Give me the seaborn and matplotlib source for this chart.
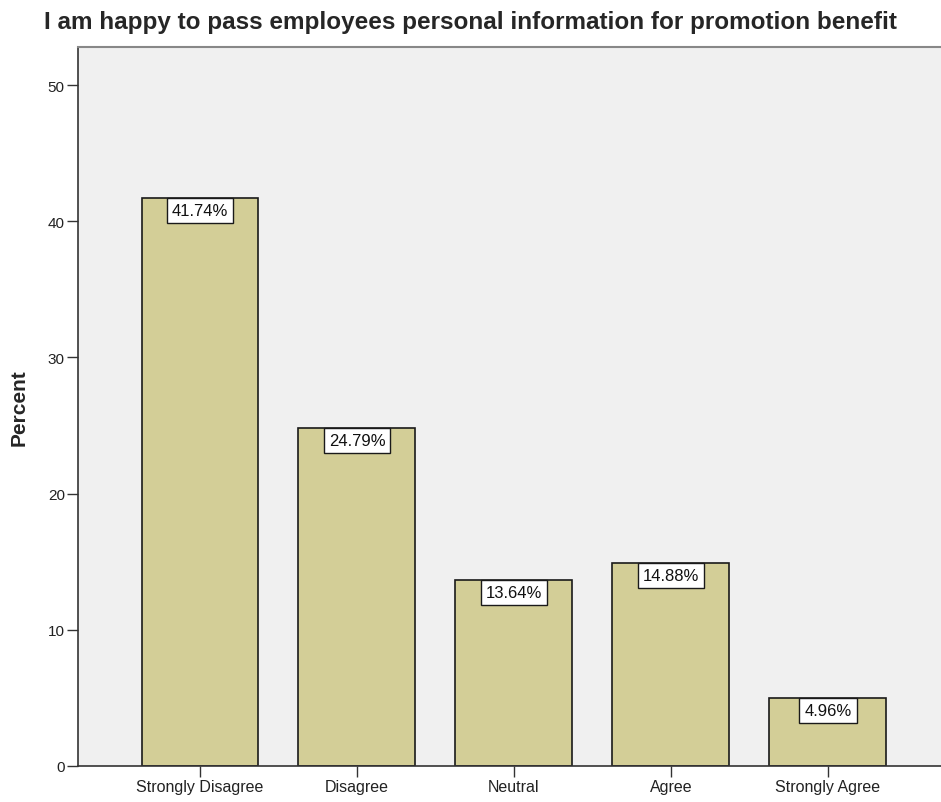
import matplotlib
matplotlib.use("Agg")
import matplotlib.pyplot as plt
import seaborn as sns
import pandas as pd

categories = ["Strongly Disagree", "Disagree", "Neutral", "Agree", "Strongly Agree"]
percents = [41.74, 24.79, 13.64, 14.88, 4.96]
y_ticks = [0, 10, 20, 30, 40, 50]

df = pd.DataFrame({"response": categories, "percent": percents})

sns.set_theme(style="white")
plt.rcParams["font.family"] = ["Liberation Sans", "DejaVu Sans"]

fig = plt.figure(figsize=(9.41, 8.03), dpi=100)
ax = fig.add_axes([78 / 941, 1 - 767 / 803, 863 / 941, (767 - 48) / 803])
ax.set_facecolor("#F0F0F0")

sns.barplot(data=df, x="response", y="percent", order=categories,
            color="#D3CE97", saturation=1, width=0.745,
            edgecolor="#1a1a1a", linewidth=1.2, ax=ax)

# value labels hanging from the top of each bar
for i, v in enumerate(percents):
    ax.annotate(f"{v:.2f}%", xy=(i, v), xytext=(0, -3.6), textcoords="offset points",
                ha="center", va="top", fontsize=12, color="#111111",
                bbox=dict(boxstyle="square,pad=0.3", facecolor="white",
                          edgecolor="#1a1a1a", linewidth=1.0))

ax.set_xlim(-0.777, 4.72)
ax.set_ylim(0, 52.8)
ax.set_yticks(y_ticks)
ax.set_yticklabels([str(t) for t in y_ticks])
ax.tick_params(axis="both", which="both", direction="out", length=8, width=1,
               color="#333333", labelcolor="#222222", pad=1.5,
               left=True, bottom=True)
ax.tick_params(axis="y", labelsize=11)
ax.tick_params(axis="x", labelsize=11.5)
ax.set_xlabel("")
ax.set_ylabel("Percent", fontsize=15, fontweight="bold")
ax.yaxis.set_label_coords(-0.057, 0.5)

for side in ["left", "bottom"]:
    ax.spines[side].set_color("#333333")
    ax.spines[side].set_linewidth(1.2)
ax.spines["top"].set_color("#888888")
ax.spines["top"].set_linewidth(1.5)
ax.spines["right"].set_visible(False)

fig.text(0.5, 1 - 22 / 803, "I am happy to pass employees personal information for promotion benefit",
         ha="center", va="center", fontsize=17.5, fontweight="bold")

fig.savefig("out.png", dpi=100, facecolor="white")
